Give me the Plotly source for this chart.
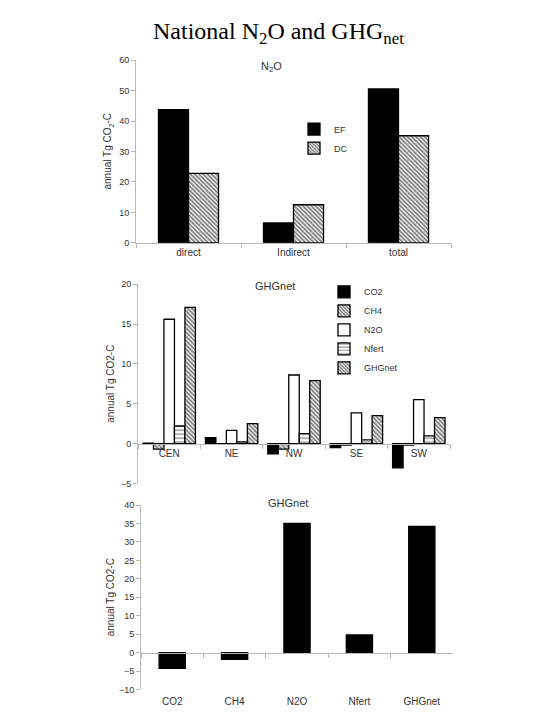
import plotly.graph_objects as go

# top panel: N2O by source
n2o_cats = ["direct", "Indirect", "total"]
ef_vals = [43.8, 6.5, 50.6]
dc_vals = [22.8, 12.5, 35.2]

# middle panel: GHGnet by region
regions = ["CEN", "NE", "NW", "SE", "SW"]
reg_co2 = [0.05, 0.75, -1.3, -0.5, -3.05]
reg_ch4 = [-0.7, -0.1, -0.7, -0.2, -0.2]
reg_n2o = [15.6, 1.65, 8.6, 3.85, 5.5]
reg_nfert = [2.2, 0.2, 1.25, 0.45, 0.95]
reg_ghg = [17.1, 2.5, 7.9, 3.5, 3.25]

# bottom panel: national totals
nat_cats = ["CO2", "CH4", "N2O", "Nfert", "GHGnet"]
nat_vals = [-4.3, -1.8, 35.0, 4.8, 34.2]

W, H = 540, 720
font = "Liberation Sans, Arial, sans-serif"
axcol = "#b8b8b8"
txtcol = "#333333"

def px_x(p):
  return p / W

def px_y(p):
  return 1 - p / H

zig = dict(shape="\\", fgcolor="black", bgcolor="white", size=3, solidity=0.6)
hz = dict(shape="-", fgcolor="black", bgcolor="white", size=4, solidity=0.3)
line = dict(color="black", width=1.3)

fig = go.Figure()

# panel 1
fig.add_trace(go.Bar(x=n2o_cats, y=ef_vals, name="EF", xaxis="x", yaxis="y",
                     width=0.286, offset=-0.286, marker=dict(color="black", line=line),
                     legend="legend"))
fig.add_trace(go.Bar(x=n2o_cats, y=dc_vals, name="DC", xaxis="x", yaxis="y",
                     width=0.286, offset=0, marker=dict(color="white", pattern=zig, line=line),
                     legend="legend"))

# panel 2
bw = 0.168
series2 = [
  ("CO2", reg_co2, dict(color="black", line=line)),
  ("CH4", reg_ch4, dict(color="white", pattern=zig, line=line)),
  ("N2O", reg_n2o, dict(color="white", line=line)),
  ("Nfert", reg_nfert, dict(color="white", pattern=hz, line=line)),
  ("GHGnet", reg_ghg, dict(color="white", pattern=zig, line=line)),
]
for i, (nm, vals, mk) in enumerate(series2):
  fig.add_trace(go.Bar(x=regions, y=vals, name=nm, xaxis="x2", yaxis="y2",
                       width=bw, offset=-2.5 * bw + i * bw, marker=mk,
                       legend="legend2"))

# panel 3
fig.add_trace(go.Bar(x=nat_cats, y=nat_vals, name="national", xaxis="x3", yaxis="y3",
                     width=0.42, marker=dict(color="black", line=line), showlegend=False))
# helper for tick marks on the zero line of panel 3
fig.add_trace(go.Scatter(x=nat_cats, y=[0] * 5, mode="none", xaxis="x4", yaxis="y3",
                         showlegend=False, hoverinfo="skip"))

ydom1 = [px_y(233), px_y(48)]
ydom2 = [px_y(477), px_y(275)]
ydom3 = [px_y(686), px_y(499)]
zero2 = ydom2[0] + (5 / 25) * (ydom2[1] - ydom2[0])
zero3 = ydom3[0] + (10 / 50) * (ydom3[1] - ydom3[0])

tickfont = dict(family=font, size=9, color=txtcol)
yax = dict(showgrid=False, zeroline=False, showline=True, linecolor=axcol, linewidth=1,
           ticks="outside", ticklen=4, tickcolor=axcol, tickfont=tickfont, fixedrange=True)
xax = dict(showgrid=False, zeroline=False, showline=True, linecolor=axcol, linewidth=1,
           ticks="outside", ticklen=4, tickcolor=axcol, tickson="boundaries",
           tickfont=dict(family=font, size=10, color=txtcol), fixedrange=True)

fig.update_layout(
  width=W, height=H,
  margin=dict(l=0, r=0, t=0, b=0),
  paper_bgcolor="white", plot_bgcolor="white",
  xaxis=dict(xax, domain=[px_x(128), px_x(443)], anchor="y", ticklabelstandoff=0),
  yaxis=dict(yax, domain=ydom1, range=[0, 60], dtick=10, anchor="x"),
  xaxis2=dict(xax, domain=[px_x(130), px_x(442)], anchor="free", position=zero2),
  yaxis2=dict(yax, domain=ydom2, range=[-5, 20], dtick=5, anchor="x2"),
  xaxis3=dict(xax, domain=[px_x(133), px_x(445)], anchor="y3", showline=False, ticks="",
              ticklabelstandoff=5),
  xaxis4=dict(xax, domain=[px_x(133), px_x(445)], anchor="free", position=zero3,
              overlaying="x3", matches="x3", showticklabels=False),
  yaxis3=dict(yax, domain=ydom3, range=[-10, 40], dtick=5, anchor="x3"),
  legend=dict(x=px_x(286), y=px_y(103), xanchor="left", yanchor="top",
              font=dict(family=font, size=9, color=txtcol), bgcolor="rgba(0,0,0,0)",
              tracegroupgap=0, itemwidth=30),
  legend2=dict(x=px_x(316), y=px_y(268), xanchor="left", yanchor="top",
               font=dict(family=font, size=9, color=txtcol), bgcolor="rgba(0,0,0,0)",
               tracegroupgap=0, itemwidth=30),
  showlegend=True,
)

ann = [
  dict(text="National N<sub>2</sub>O and GHG<sub>net</sub>", x=0.5, y=px_y(20),
       font=dict(family="Liberation Serif, Times New Roman, serif", size=24, color="black")),
  dict(text="N<sub>2</sub>O", x=px_x(263), y=px_y(55), font=dict(family=font, size=11, color=txtcol)),
  dict(text="GHGnet", x=px_x(267), y=px_y(277), font=dict(family=font, size=11, color=txtcol)),
  dict(text="GHGnet", x=px_x(280), y=px_y(497), font=dict(family=font, size=11, color=txtcol)),
  dict(text="annual Tg CO<sub>2</sub>-C", x=px_x(100), y=sum(ydom1) / 2, textangle=-90,
       font=dict(family=font, size=10, color=txtcol)),
  dict(text="annual Tg CO2-C", x=px_x(103), y=sum(ydom2) / 2, textangle=-90,
       font=dict(family=font, size=10, color=txtcol)),
  dict(text="annual Tg CO2-C", x=px_x(102), y=sum(ydom3) / 2, textangle=-90,
       font=dict(family=font, size=10, color=txtcol)),
]
for a in ann:
  fig.add_annotation(xref="paper", yref="paper", showarrow=False,
                     xanchor="center", yanchor="middle", **a)

fig.write_html("out.html")
